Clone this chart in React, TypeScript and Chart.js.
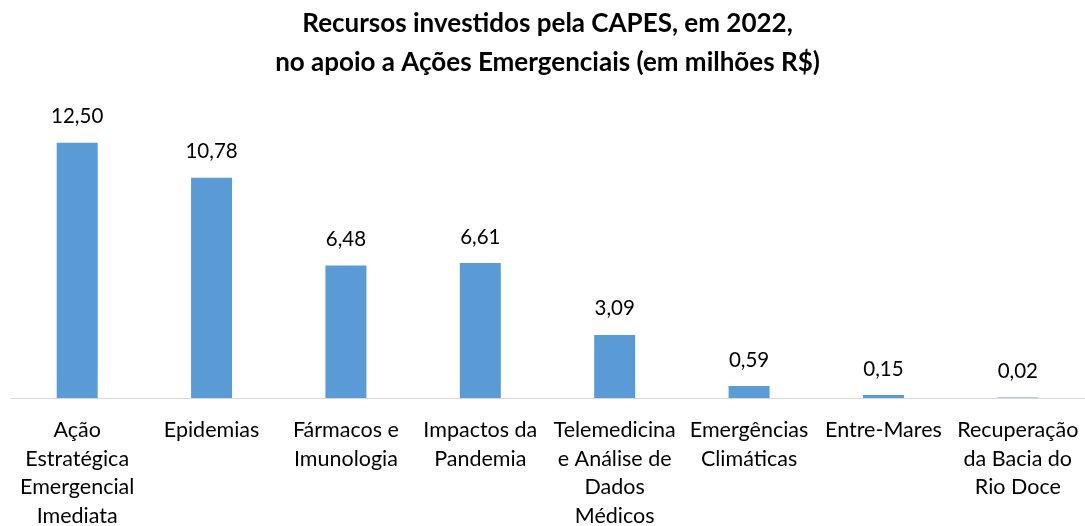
import React, { useEffect, useRef } from "react";
import { Chart, registerables } from "chart.js";

Chart.register(...registerables);

const categories: string[][] = [
  ["Ação", "Estratégica", "Emergencial", "Imediata"],
  ["Epidemias"],
  ["Fármacos e", "Imunologia"],
  ["Impactos da", "Pandemia"],
  ["Telemedicina", "e Análise de", "Dados", "Médicos"],
  ["Emergências", "Climáticas"],
  ["Entre-Mares"],
  ["Recuperação", "da Bacia do", "Rio Doce"],
];
const values: number[] = [12.5, 10.78, 6.48, 6.61, 3.09, 0.59, 0.15, 0.02];
const titleLines: string[] = [
  "Recursos investidos pela CAPES, em 2022,",
  "no apoio a Ações Emergenciais (em milhões R$)",
];

const FONT = "Lato, 'Open Sans', sans-serif";

const valueLabels = {
  id: "valueLabels",
  afterDatasetsDraw(chart: any) {
    const ctx = chart.ctx;
    const meta = chart.getDatasetMeta(0);
    ctx.save();
    ctx.font = `20.5px ${FONT}`;
    ctx.fillStyle = "#000000";
    ctx.textAlign = "center";
    ctx.textBaseline = "middle";
    meta.data.forEach((bar: any, i: number) => {
      const txt = values[i].toFixed(2).replace(".", ",");
      ctx.fillText(txt, bar.x, bar.y - 26);
    });
    ctx.restore();
  },
};

export default function App() {
  const ref = useRef<HTMLCanvasElement>(null);
  useEffect(() => {
    if (!ref.current) return;
    const chart = new Chart(ref.current, {
      type: "bar",
      data: {
        labels: categories,
        datasets: [
          {
            data: values,
            backgroundColor: "#5B9BD5",
            borderWidth: 0,
            barPercentage: 1,
            categoryPercentage: 0.305,
          },
        ],
      },
      options: {
        animation: false,
        responsive: false,
        layout: { padding: { left: 10, right: 0, top: 0, bottom: 0 } },
        plugins: {
          legend: { display: false },
          tooltip: { enabled: false },
          title: {
            display: true,
            text: titleLines,
            color: "#000000",
            font: { family: FONT, size: 26, weight: "bold", lineHeight: 1.5 },
            padding: { top: 4, bottom: 30 },
          },
        },
        scales: {
          x: {
            grid: { display: false, drawTicks: false },
            border: { display: true, color: "#D9D9D9", width: 1 },
            ticks: {
              color: "#000000",
              font: { family: FONT, size: 21.5, lineHeight: 1.33 },
              padding: 18,
              maxRotation: 0,
              autoSkip: false,
            },
            afterFit(scale: any) {
              scale.height = 128;
              scale.paddingLeft = 0;
              scale.paddingRight = 0;
            },
          },
          y: {
            display: false,
            min: 0,
            max: 14,
          },
        },
      },
      plugins: [valueLabels],
    });
    return () => chart.destroy();
  }, []);
  return (
    <div style={{ position: "fixed", left: 0, top: 0, width: 1085, height: 526, background: "#fff" }}>
      <canvas ref={ref} width={1085} height={526} style={{ display: "block" }} />
    </div>
  );
}
